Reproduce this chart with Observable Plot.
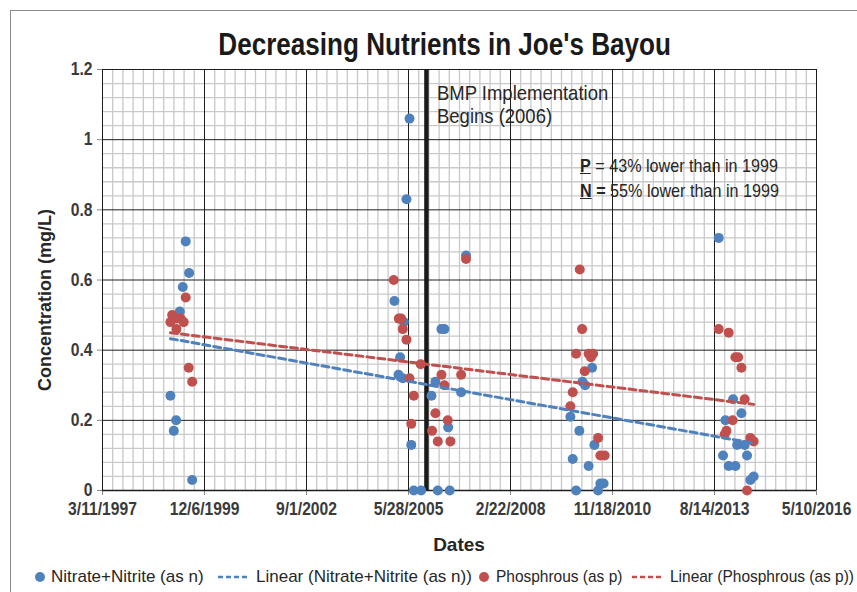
<!DOCTYPE html>
<html>
<head>
<meta charset="utf-8">
<script src="https://cdn.jsdelivr.net/npm/d3@7"></script>
<script src="https://cdn.jsdelivr.net/npm/@observablehq/plot@0.6"></script>
<style>
  body { margin: 0; background: #fff; }
  #wrap { position: relative; width: 857px; height: 592px; overflow: hidden; background: #fff;
          font-family: "Liberation Sans", Arial, sans-serif; color: #262626; }
  #border { position: absolute; left: 10px; top: 10px; width: 900px; height: 700px; border-left: 1px solid #8a8a8a; border-top: 1px solid #8a8a8a; }
  .nar { display: inline-block; white-space: nowrap; }
  #title { position: absolute; left: 0; width: 890px; top: 28px; text-align: center; font-size: 32px; line-height: 32px; font-weight: bold; color: #1a1a1a; }
  #title .nar { transform: scaleX(0.815); }
  #chart { position: absolute; left: 0; top: 50px; }
  #xlabel { position: absolute; left: 102px; width: 714px; top: 535px; text-align: center; font-size: 19px; line-height: 19px; font-weight: bold; color: #262626; }
  #ylabel { position: absolute; left: 45px; top: 300px; transform: translate(-50%, -50%) rotate(-90deg); white-space: nowrap; font-size: 18px; line-height: 18px; font-weight: bold; color: #262626; }
  #bmp { position: absolute; left: 437px; top: 81px; font-size: 21px; line-height: 23px; color: #262626; transform-origin: 0 0; transform: scaleX(0.88); white-space: nowrap; }
  #note { position: absolute; left: 580px; top: 153px; font-size: 19px; line-height: 25px; color: #262626; white-space: nowrap; transform-origin: 0 0; transform: scaleX(0.85); }
  .lg { position: absolute; top: 567px; font-size: 17px; line-height: 20px; white-space: nowrap; color: #262626; transform-origin: 0 0; }
  .lsym { position: absolute; top: 570px; }
</style>
</head>
<body>
<div id="wrap">
  <div id="border"></div>
  <div id="title"><span class="nar">Decreasing Nutrients in Joe's Bayou</span></div>
  <div id="chart"></div>
  <div id="xlabel">Dates</div>
  <div id="ylabel">Concentration (mg/L)</div>
  <div id="bmp">BMP Implementation<br>Begins (2006)</div>
  <div id="note"><b><u>P</u></b> = 43% lower than in 1999<br><b><u>N</u> =</b> 55% lower than in 1999</div>
  <svg class="lsym" style="left:34px" width="12" height="14"><circle cx="6" cy="7" r="5" fill="#4f81bd"/></svg>
  <div class="lg" style="left:51px">Nitrate+Nitrite (as n)</div>
  <svg class="lsym" style="left:217px" width="32" height="14"><line x1="1" y1="7" x2="31" y2="7" stroke="#4f81bd" stroke-width="2.7" stroke-dasharray="5,3"/></svg>
  <div class="lg" style="left:256px">Linear (Nitrate+Nitrite (as n))</div>
  <svg class="lsym" style="left:478px" width="12" height="14"><circle cx="6" cy="7" r="5" fill="#c0504d"/></svg>
  <div class="lg" style="left:496px; transform: scaleX(0.91)">Phosphrous (as p)</div>
  <svg class="lsym" style="left:631px" width="32" height="14"><line x1="1" y1="7" x2="31" y2="7" stroke="#c0504d" stroke-width="2.7" stroke-dasharray="5,3"/></svg>
  <div class="lg" style="left:670px; transform: scaleX(0.91)">Linear (Phosphrous (as p))</div>
</div>
<script>
// ---- data ----
const nitrateDates = [
  "1999-01-06","1999-02-08","1999-03-03","1999-04-08","1999-05-07","1999-06-05","1999-07-08","1999-08-07",
  "2005-01-10","2005-02-19","2005-03-07","2005-04-02","2005-04-12","2005-05-08","2005-06-07","2005-06-24",
  "2005-07-19","2005-09-29","2006-01-08","2006-02-16","2006-03-11","2006-04-16","2006-05-15","2006-06-21",
  "2006-07-06","2006-10-26","2006-12-13",
  "2009-10-01","2009-10-24","2009-11-26","2009-12-28","2010-01-27","2010-02-23","2010-03-29","2010-05-02",
  "2010-05-25","2010-06-30","2010-07-22","2010-08-23",
  "2013-09-24","2013-11-06","2013-11-29","2013-12-31","2014-02-12","2014-03-07","2014-03-24","2014-05-05",
  "2014-06-06","2014-06-29","2014-07-31","2014-09-02"
];
const nitrateValues = [
  0.27, 0.17, 0.20, 0.51, 0.58, 0.71, 0.62, 0.03,
  0.54, 0.33, 0.38, 0.32, 0.48, 0.83, 1.06, 0.13,
  0.00, 0.00, 0.27, 0.31, 0.00, 0.46, 0.46, 0.18,
  0.00, 0.28, 0.67,
  0.21, 0.09, 0.00, 0.17, 0.31, 0.30, 0.07, 0.35,
  0.13, 0.00, 0.02, 0.02,
  0.72, 0.10, 0.20, 0.07, 0.26, 0.07, 0.13, 0.22,
  0.13, 0.10, 0.03, 0.04
];
const phosDates = [
  "1999-01-06","1999-01-23","1999-03-03","1999-03-06","1999-04-15","1999-05-16","1999-06-05","1999-07-04","1999-08-07",
  "2005-01-03","2005-02-22","2005-03-17","2005-04-02","2005-05-08","2005-06-07","2005-06-24","2005-07-19","2005-09-25",
  "2006-01-14","2006-02-16","2006-03-11","2006-04-16","2006-05-15","2006-06-17","2006-07-13","2006-10-26","2006-12-13",
  "2009-10-01","2009-10-24","2009-11-26","2010-01-01","2010-01-24","2010-02-19","2010-03-29","2010-04-20","2010-05-12",
  "2010-06-30","2010-07-22","2010-09-02",
  "2013-09-24","2013-11-22","2013-12-09","2013-12-31","2014-02-08","2014-03-07","2014-04-03","2014-05-05","2014-06-06",
  "2014-06-29","2014-07-31","2014-09-02"
];
const phosValues = [
  0.48, 0.50, 0.49, 0.46, 0.49, 0.48, 0.55, 0.35, 0.31,
  0.60, 0.49, 0.49, 0.46, 0.43, 0.32, 0.19, 0.27, 0.36,
  0.17, 0.22, 0.14, 0.33, 0.30, 0.20, 0.14, 0.33, 0.66,
  0.24, 0.28, 0.39, 0.63, 0.46, 0.34, 0.39, 0.38, 0.39,
  0.15, 0.10, 0.10,
  0.46, 0.16, 0.17, 0.45, 0.20, 0.38, 0.38, 0.35, 0.26,
  0.00, 0.15, 0.14
];
const xTickLabels = ["3/11/1997","12/6/1999","9/1/2002","5/28/2005","2/22/2008","11/18/2010","8/14/2013","5/10/2016"];
const yTickValues = [0, 0.2, 0.4, 0.6, 0.8, 1.0, 1.2];
const bmpDate = "2005-11-20";

// ---- build tables ----
const parseISO = d3.utcParse("%Y-%m-%d");
const parseTick = d3.utcParse("%m/%d/%Y");
const nitrate = nitrateDates.map((d, i) => ({date: parseISO(d), value: nitrateValues[i]}));
const phos = phosDates.map((d, i) => ({date: parseISO(d), value: phosValues[i]}));
const majorX = xTickLabels.map(parseTick);
const minorX = [];
for (let i = 0; i < majorX.length - 1; i++) for (let k = 1; k < 10; k++) minorX.push(d3.utcDay.offset(majorX[i], k * 100));
const minorY = [];
for (let i = 0; i < yTickValues.length - 1; i++) for (let k = 1; k < 5; k++) minorY.push(yTickValues[i] + k * 0.04);

const chart = Plot.plot({
  width: 857, height: 505,
  marginTop: 19, marginBottom: 65, marginLeft: 102, marginRight: 41,
  style: {fontFamily: '"Liberation Sans", Arial, sans-serif', fontSize: "18px", fontWeight: "bold", color: "#3a3a3a", background: "transparent", overflow: "visible"},
  x: {type: "utc", domain: [majorX[0], majorX[majorX.length - 1]]},
  y: {domain: [0, 1.2]},
  marks: [
    Plot.ruleX(minorX, {stroke: "#c9c9c9", strokeWidth: 1.3}),
    Plot.ruleY(minorY, {stroke: "#c9c9c9", strokeWidth: 1.3}),
    Plot.ruleX(majorX, {stroke: "#1e1e1e", strokeWidth: 1}),
    Plot.ruleY(yTickValues, {stroke: "#1e1e1e", strokeWidth: 1}),
    Plot.axisX({ticks: majorX, tickFormat: d3.utcFormat("%-m/%-d/%Y"), tickSize: 5, tickPadding: 7, stroke: "#8a8a8a", label: null}),
    Plot.axisY({ticks: yTickValues, tickFormat: d => String(+d.toFixed(1)), tickSize: 5, tickPadding: 5, stroke: "#8a8a8a", label: null}),
    Plot.ruleY([0], {stroke: "#1e1e1e", strokeWidth: 1.5}),
    Plot.ruleX([parseISO(bmpDate)], {stroke: "#1a1a1a", strokeWidth: 4.5}),
    Plot.dot(nitrate, {x: "date", y: "value", r: 5, fill: "#4f81bd"}),
    Plot.dot(phos, {x: "date", y: "value", r: 5, fill: "#c0504d"}),
    Plot.linearRegressionY(nitrate, {x: "date", y: "value", stroke: "#4f81bd", strokeWidth: 3, strokeDasharray: "7,4", ci: 0}),
    Plot.linearRegressionY(phos, {x: "date", y: "value", stroke: "#c0504d", strokeWidth: 3, strokeDasharray: "7,4", ci: 0})
  ]
});
document.getElementById("chart").appendChild(chart);
// narrow the tick labels (condensed look of the original)
chart.querySelectorAll('g[aria-label$="tick label"] text').forEach(t => {
  const L = t.getComputedTextLength();
  if (L > 0) {
    t.setAttribute("textLength", (L * 0.87).toFixed(2));
    t.setAttribute("lengthAdjust", "spacingAndGlyphs");
  }
});
</script>
</body>
</html>
